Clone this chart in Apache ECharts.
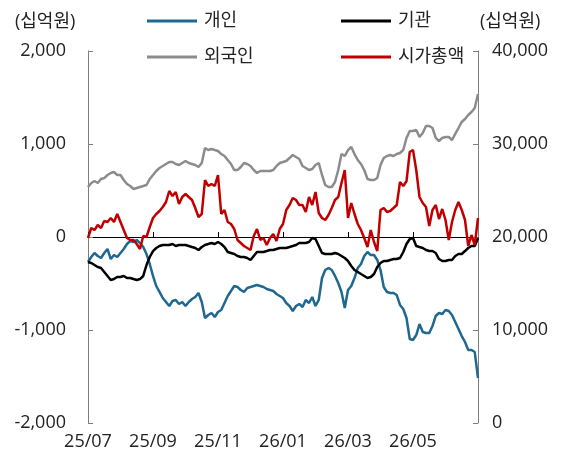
<!DOCTYPE html>
<html><head><meta charset="utf-8">
<script src="https://cdn.jsdelivr.net/npm/echarts@6/dist/echarts.min.js"></script>
<style>html,body{margin:0;padding:0;background:#fff}#c{width:561px;height:459px}</style>
</head><body><div id="c"></div>
<script>
// Month tick labels (each month = 10 samples)
const months = ['25/07','25/08','25/09','25/10','25/11','25/12','26/01','26/02','26/03','26/04','26/05','26/06','26/07'];
const seriesNames = ['개인','기관','외국인','시가총액'];
const unitLabel = '(십억원)';

// 개인 (십억원)
const retail = [-269,-215,-172,-204,-226,-172,-129,-237,-194,-215,-172,-129,-75,-43,-54,-32,-65,-108,-183,-290,
-419,-527,-591,-656,-699,-742,-688,-677,-720,-699,-742,-699,-667,-645,-602,-699,-871,-839,-817,-860,
-806,-785,-710,-634,-581,-527,-538,-570,-591,-548,-538,-527,-516,-527,-538,-559,-570,-581,-613,-634,
-656,-710,-742,-796,-742,-720,-753,-677,-710,-645,-742,-677,-441,-355,-333,-355,-419,-495,-591,-763,
-570,-527,-441,-333,-290,-204,-161,-194,-194,-247,-355,-538,-591,-602,-602,-624,-731,-774,-871,-1097,
-1108,-1054,-936,-1022,-1032,-1032,-957,-849,-817,-828,-785,-796,-839,-914,-989,-1065,-1129,-1215,-1215,-1237,-1516];
// 기관 (십억원)
const institution = [-269,-280,-301,-323,-333,-376,-419,-462,-452,-430,-430,-419,-441,-441,-452,-462,-452,-419,-301,-215,
-151,-118,-97,-86,-86,-86,-75,-97,-86,-86,-86,-97,-108,-118,-140,-108,-86,-75,-65,-75,
-54,-75,-108,-161,-172,-183,-204,-215,-215,-226,-247,-204,-161,-161,-161,-151,-140,-140,-129,-118,
-118,-118,-108,-97,-86,-65,-65,-65,-54,-11,-22,-97,-172,-183,-183,-183,-172,-183,-204,-226,
-258,-312,-355,-376,-398,-419,-441,-430,-398,-323,-280,-258,-258,-247,-237,-237,-226,-161,-75,-22,
-11,-97,-108,-118,-140,-151,-151,-172,-237,-258,-258,-247,-247,-204,-183,-183,-151,-118,-97,-97,-11];
// 외국인 (십억원)
const foreign = [538,581,602,581,624,634,667,688,699,667,667,613,570,548,516,527,538,548,559,624,
667,710,742,763,785,806,806,785,774,796,817,796,785,774,753,796,957,935,946,935,
925,892,871,828,785,720,720,753,796,785,763,720,688,710,710,710,710,720,763,796,
806,817,849,882,860,839,763,742,720,731,774,796,667,559,538,538,591,720,892,871,
935,968,892,828,785,720,624,613,613,634,774,849,871,882,871,892,903,935,1065,1140,
1140,1151,1075,1118,1194,1194,1172,1065,1032,1065,1075,1075,1043,1108,1172,1237,1269,1312,1344,1387,1538];
// 시가총액 (십억원, 우축)
const marketCap = [19892,20968,20753,21290,20968,21720,21613,22043,21613,22473,21613,20753,19892,19677,19677,19247,18710,20108,20000,21075,
22043,22473,22796,23226,23763,24946,24409,24839,23548,24301,24624,24301,23979,23118,22151,22473,26129,25484,25699,25484,
26667,22473,22903,21613,21398,20860,19677,19355,19032,18817,18602,20108,20860,19677,19892,19140,19892,20323,19570,20860,
21398,22903,23441,24194,23979,23441,23441,22688,24301,23441,24839,22581,22043,21828,22366,23118,23979,24301,25807,27205,
22043,23656,22473,21398,20753,19892,18925,20753,19462,18495,22903,23118,22688,22796,23118,23441,25914,25484,26000,29140,
29355,27205,24301,23656,23226,21183,22903,23441,21936,23011,21828,19677,21613,22903,23763,22903,21828,19032,20215,19140,22043];

const categories = [];
for (let m = 0; m < 12; m++) for (let k = 0; k < 10; k++) categories.push(months[m] + '-' + k);
categories.push(months[12] + '-0');

const FONT = "'Open Sans', 'Noto Sans CJK KR', sans-serif";
const TXT = '#222';
const labelEvery = (idx) => idx % 20 === 0 && idx < categories.length - 1;
const fmt = (v) => Number(v).toLocaleString('en-US');

const colors = {'개인':'#1F6890','기관':'#000000','외국인':'#8C8C8C','시가총액':'#C00000'};
const dataMap = {'개인':retail,'기관':institution,'외국인':foreign,'시가총액':marketCap};

const chart = echarts.init(document.getElementById('c'), null, {renderer:'canvas'});
const legendPos = [[142,7],[336,7],[142,43],[336,43]];
chart.setOption({
  animation: false,
  textStyle: {fontFamily: FONT},
  grid: {left: 88, right: 83, top: 51, bottom: 36},
  legend: seriesNames.map((n, i) => ({
    data: [{name: n, icon: 'rect', itemStyle: {color: colors[n]}}],
    left: legendPos[i][0], top: legendPos[i][1],
    itemWidth: 50, itemHeight: 3, itemGap: 0,
    textStyle: {fontSize: 18, color: TXT, fontFamily: FONT, padding: [0,0,0,2]}
  })),
  graphic: [
    {type:'text', left: 15, top: 13, style:{text: unitLabel, font: "18px " + FONT, fill: TXT}},
    {type:'text', left: 480, top: 13, style:{text: unitLabel, font: "18px " + FONT, fill: TXT}}
  ],
  xAxis: [
    {type:'category', data: categories, boundaryGap:false, position:'bottom',
     axisLine:{show:false, onZero:false}, axisTick:{show:false},
     axisLabel:{interval: labelEvery, formatter: v => v.split('-')[0], margin: 10, fontSize: 18, color: TXT, fontFamily: FONT},
     splitLine:{show:false}},
    {type:'category', data: categories, boundaryGap:false, position:'bottom',
     axisLine:{show:true, onZero:true, lineStyle:{color:'#000', width:1}},
     axisTick:{show:true, inside:true, length:5, interval: labelEvery, lineStyle:{color:'#000'}},
     axisLabel:{show:false}, splitLine:{show:false}}
  ],
  yAxis: [
    {type:'value', min:-2000, max:2000, interval:1000, position:'left',
     axisLine:{show:true, onZero:false, lineStyle:{color:'#7F7F7F', width:1}},
     axisTick:{show:true, inside:true, length:5, lineStyle:{color:'#7F7F7F'}},
     axisLabel:{formatter: fmt, margin: 22, fontSize: 18, color: TXT, fontFamily: FONT},
     splitLine:{show:false}},
    {type:'value', min:0, max:40000, interval:10000, position:'right',
     axisLine:{show:true, onZero:false, lineStyle:{color:'#7F7F7F', width:1}},
     axisTick:{show:true, inside:true, length:5, lineStyle:{color:'#7F7F7F'}},
     axisLabel:{formatter: fmt, margin: 14, fontSize: 18, color: TXT, fontFamily: FONT},
     splitLine:{show:false}}
  ],
  series: seriesNames.map(n => ({
    name: n, type: 'line', data: dataMap[n], xAxisIndex: 0,
    yAxisIndex: n === '시가총액' ? 1 : 0,
    symbol: 'none', showSymbol: false,
    lineStyle: {color: colors[n], width: 2.5},
    itemStyle: {color: colors[n]},
    emphasis: {disabled: true}
  }))
});
</script></body></html>
